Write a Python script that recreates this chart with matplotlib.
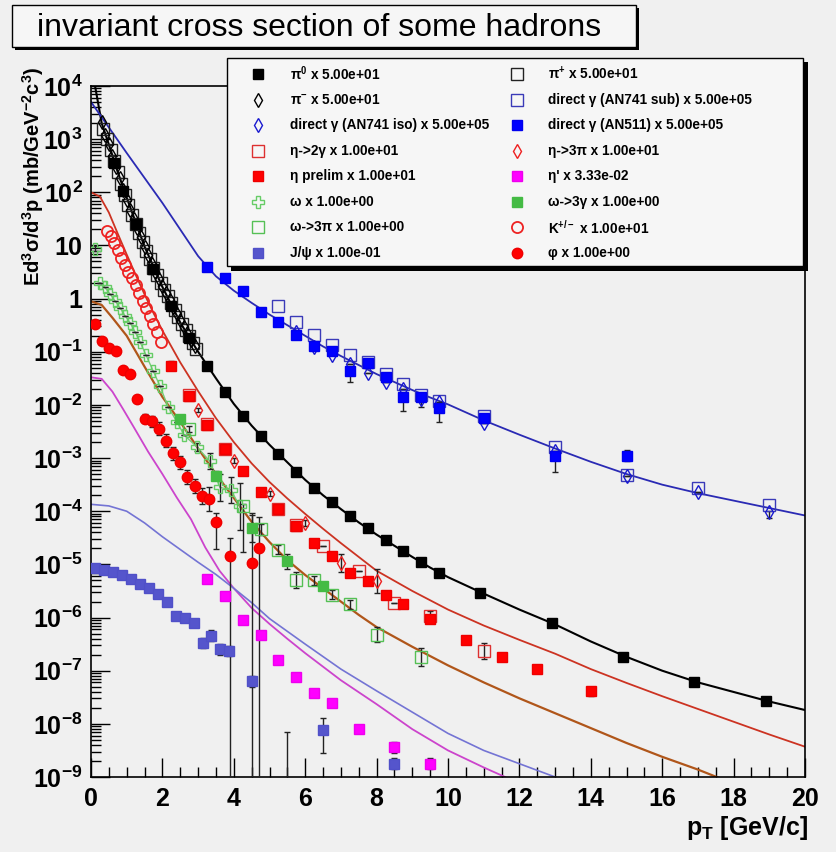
import numpy as np
import matplotlib
matplotlib.use('Agg')
import matplotlib.pyplot as plt
from matplotlib.lines import Line2D
from matplotlib.patches import Rectangle
from matplotlib.ticker import MultipleLocator, LogLocator, NullFormatter
from matplotlib import font_manager as fm


def has_font(name):
    try:
        fm.findfont(fm.FontProperties(family=name), fallback_to_default=False)
        return True
    except Exception:
        return False


SANS = 'Liberation Sans'
NARROW = 'Liberation Sans Narrow' if has_font('Liberation Sans Narrow') else SANS

plt.rcParams.update({
    'font.family': [SANS, 'DejaVu Sans'],
    'mathtext.fontset': 'custom',
    'mathtext.rm': NARROW,
    'mathtext.bf': NARROW + ':bold',
    'mathtext.it': NARROW + ':italic',
    'mathtext.default': 'bf',
})

# ---------------- data (values stored as log10 of cross section) ----------------
pi0_pt = [0.65, 0.9, 1.25, 1.75, 2.25, 2.75, 3.25, 3.75, 4.25, 4.75, 5.25, 5.75, 6.25, 6.75,
          7.25, 7.75, 8.25, 8.75, 9.25, 9.75, 10.9, 12.9, 14.9, 16.9, 18.9]
pi0_lg = [2.55, 2.02, 1.40, 0.55, -0.13, -0.75, -1.26, -1.75, -2.21, -2.58, -2.92, -3.26, -3.57,
          -3.83, -4.09, -4.32, -4.55, -4.75, -4.96, -5.17, -5.53, -6.11, -6.74, -7.21, -7.57]

pip_pt = [0.35, 0.45, 0.55, 0.65, 0.75, 0.85, 0.95, 1.05, 1.15, 1.25, 1.35, 1.45, 1.55, 1.65,
          1.75, 1.85, 1.95, 2.05, 2.15, 2.25, 2.35, 2.45, 2.55, 2.65, 2.75, 2.85, 2.95]
pip_lg = [3.20, 3.00, 2.80, 2.58, 2.38, 2.15, 1.95, 1.77, 1.58, 1.41, 1.24, 1.07, 0.90, 0.74,
          0.58, 0.44, 0.30, 0.17, 0.04, -0.09, -0.22, -0.35, -0.47, -0.59, -0.71, -0.83, -0.95]

pim_pt = [0.3, 0.4, 0.5, 0.6, 0.7, 0.8, 0.9, 1.0, 1.1, 1.2, 1.3, 1.4, 1.5, 1.6,
          1.7, 1.8, 1.9, 2.0, 2.1, 2.2, 2.3, 2.4, 2.5, 2.6, 2.7, 2.8, 2.9]
pim_lg = [3.32, 3.08, 2.90, 2.68, 2.47, 2.26, 2.05, 1.86, 1.67, 1.49, 1.32, 1.15, 0.98, 0.82,
          0.66, 0.51, 0.37, 0.23, 0.10, -0.03, -0.16, -0.29, -0.41, -0.53, -0.65, -0.77, -0.89]

gsub_pt = [5.25, 5.75, 6.25, 6.75, 7.25, 7.75, 8.25, 8.75, 9.25, 9.75, 11.0, 13.0, 15.0, 17.0, 19.0]
gsub_lg = [-0.13, -0.44, -0.69, -0.88, -1.06, -1.20, -1.42, -1.60, -1.81, -1.92, -2.20, -2.79,
           -3.32, -3.57, -3.88]

giso_pt = [5.75, 6.25, 6.75, 7.25, 7.75, 8.25, 8.75, 9.25, 9.75, 11.0, 13.0, 15.0, 17.0, 19.0]
giso_lg = [-0.62, -0.91, -1.07, -1.23, -1.40, -1.57, -1.70, -1.89, -1.95, -2.34, -2.86, -3.33,
           -3.64, -4.02]
giso_elo = [0, 0, 0, 0, 0, 0, 0, 0, 0, 0, 0, 0, 0, 0.10]
giso_ehi = [0, 0, 0, 0, 0, 0, 0, 0, 0, 0, 0, 0, 0, 0.03]

g511_pt = [3.25, 3.75, 4.25, 4.75, 5.25, 5.75, 6.25, 6.75, 7.25, 7.75, 8.25, 8.75, 9.25, 9.75,
           11.0, 13.0, 15.0]
g511_lg = [0.60, 0.38, 0.14, -0.26, -0.44, -0.68, -0.90, -0.98, -1.37, -1.21, -1.47, -1.86,
           -1.86, -2.06, -2.25, -2.97, -2.96]
g511_elo = [0, 0, 0, 0, 0, 0, 0, 0, 0.20, 0, 0, 0.26, 0.17, 0.27, 0.05, 0.30, 0.10]
g511_ehi = [0, 0, 0, 0, 0, 0, 0, 0, 0.08, 0, 0, 0.05, 0.05, 0.05, 0.05, 0.05, 0.12]

eta2g_pt = [2.75, 3.25, 3.75, 5.25, 5.75, 6.5, 7.5, 8.5, 9.5, 11.0]
eta2g_lg = [-1.82, -2.36, -2.82, -3.95, -4.25, -4.65, -5.13, -5.72, -5.97, -6.63]
eta2g_err = [0, 0, 0, 0, 0, 0, 0, 0, 0.10, 0.15]

eta3pi_pt = [3.0, 4.0, 5.0, 6.0, 7.0, 8.0]
eta3pi_lg = [-2.10, -3.05, -3.67, -4.22, -4.97, -5.31]
eta3pi_err = [0.04, 0.05, 0.05, 0.06, 0.17, 0.22]

etap_pt = [2.25, 2.75, 3.25, 3.75, 4.25, 4.75, 5.25, 5.75, 6.25, 6.75, 7.25, 7.75, 8.25, 8.75,
           9.5, 10.5, 11.5, 12.5, 14.0]
etap_lg = [-1.26, -1.84, -2.38, -2.83, -3.24, -3.64, -3.96, -4.28, -4.59, -4.84, -5.16, -5.31,
           -5.57, -5.75, -6.03, -6.43, -6.74, -6.97, -7.39]
etap_err = [0.09, 0.04, 0.04, 0.04, 0.04, 0.04, 0.04, 0.04, 0.04, 0.04, 0.04, 0.05, 0.05, 0.05,
            0.06, 0.06, 0.08, 0.08, 0.09]

etaprime_pt = [3.25, 3.75, 4.25, 4.75, 5.25, 5.75, 6.25, 6.75, 7.5, 8.5, 9.5]
etaprime_lg = [-5.27, -5.60, -6.05, -6.32, -6.79, -7.11, -7.42, -7.60, -8.10, -8.44, -8.75]
etaprime_err = [0.04, 0.04, 0.04, 0.04, 0.05, 0.05, 0.06, 0.07, 0.07, 0.10, 0.10]

omega_pt = [0.11, 0.25, 0.39, 0.53, 0.67, 0.81, 0.95, 1.09, 1.23, 1.37, 1.54, 1.74, 1.93, 2.16,
            2.41, 2.61, 2.97, 3.33, 3.61, 3.92, 4.17]
omega_lg = [0.94, 0.30, 0.21, 0.09, -0.04, -0.17, -0.32, -0.45, -0.62, -0.81, -1.06, -1.36, -1.64,
            -2.04, -2.32, -2.57, -2.79, -3.06, -3.55, -3.60, -3.91]
omega_err = [0.05, 0, 0, 0, 0, 0, 0, 0, 0, 0, 0, 0, 0, 0, 0, 0, 0.08, 0.15, 0.25, 0.25, 0.45]

w3g_pt = [2.5, 3.5, 4.5, 5.5, 6.5]
w3g_lg = [-2.26, -3.33, -4.31, -4.94, -5.40]
w3g_err = [0.05, 0.08, 0.27, 0.14, 0.06]

w3pi_pt = [2.75, 4.25, 4.75, 5.25, 5.75, 6.25, 6.75, 7.25, 8.0, 9.25]
w3pi_lg = [-2.45, -3.91, -4.34, -4.72, -5.30, -5.30, -5.57, -5.75, -6.32, -6.75]
w3pi_elo = [0.05, 0.85, 0.10, 0.08, 0.15, 0.08, 0.08, 0.08, 0.14, 0.17]
w3pi_ehi = [0.05, 0.05, 0.10, 0.08, 0.15, 0.08, 0.08, 0.08, 0.14, 0.17]

kaon_pt = [0.45, 0.55, 0.65, 0.75, 0.85, 0.95, 1.05, 1.15, 1.25, 1.35, 1.45, 1.55, 1.65, 1.75,
           1.85, 1.95]
kaon_lg = [1.28, 1.17, 1.04, 0.91, 0.77, 0.64, 0.51, 0.38, 0.25, 0.11, -0.04, -0.17, -0.32,
           -0.47, -0.62, -0.81]

jpsi_pt = [0.125, 0.375, 0.625, 0.875, 1.125, 1.375, 1.625, 1.875, 2.125, 2.375, 2.625, 2.875,
           3.125, 3.375, 3.625, 3.875, 4.5, 5.5, 6.5, 8.5]
jpsi_lg = [-5.06, -5.10, -5.15, -5.20, -5.27, -5.36, -5.45, -5.55, -5.70, -5.97, -6.00, -6.11,
           -6.48, -6.34, -6.60, -6.63, -7.20, -9.50, -8.11, -8.75]
jpsi_elo = [0, 0, 0, 0, 0, 0, 0, 0, 0, 0.04, 0.04, 0.05, 0.10, 0.10, 0.10, 0.10, 0.10, 0.5, 0.44, 0.10]
jpsi_ehi = [0, 0, 0, 0, 0, 0, 0, 0, 0, 0.04, 0.04, 0.05, 0.10, 0.10, 0.10, 0.10, 0.10, 1.35, 0.22, 0.10]

phi_pt = [0.1, 0.3, 0.5, 0.7, 0.9, 1.1, 1.3, 1.5, 1.7, 1.9, 2.1, 2.3, 2.5, 2.7, 2.9, 3.1, 3.3,
          3.5, 3.9, 4.5, 4.7]
phi_lg = [-0.47, -0.80, -0.93, -0.98, -1.34, -1.42, -1.89, -2.26, -2.31, -2.45, -2.67, -2.91,
          -3.08, -3.36, -3.53, -3.71, -3.77, -4.21, -4.84, -4.97, -4.70]
phi_elo = [0, 0, 0, 0, 0, 0, 0.05, 0.08, 0.10, 0.12, 0.12, 0.12, 0.12, 0.13, 0.13, 0.15, 0.22,
           0.50, 20, 20, 20]
phi_ehi = [0, 0, 0, 0, 0, 0, 0.05, 0.08, 0.10, 0.12, 0.12, 0.12, 0.12, 0.13, 0.13, 0.15, 0.22,
           0.18, 0.34, 0.90, 0.60]

# fitted curves (log10 values at listed pT)
pi0fit_pt = [0.1, 0.3, 0.5, 0.75, 1.0, 1.5, 2.0, 2.5, 3.0, 3.5, 4.0, 4.5, 5.0, 5.5, 6.0, 6.5,
             7.0, 7.5, 8.0, 8.5, 9.0, 9.5, 10, 11, 12, 13, 14, 15, 16, 17, 18, 19, 20]
pi0fit_lg = [4.05, 3.30, 2.90, 2.38, 1.90, 0.98, 0.22, -0.45, -1.00, -1.50, -1.98, -2.39, -2.75,
             -3.08, -3.41, -3.70, -3.96, -4.21, -4.44, -4.65, -4.86, -5.06, -5.24, -5.55, -5.85,
             -6.13, -6.45, -6.74, -7.00, -7.22, -7.40, -7.58, -7.74]

gfit_pt = [0, 0.5, 1.0, 1.5, 2.0, 2.5, 3.0, 3.5, 4.0, 4.5, 5.0, 5.5, 6.0, 6.5, 7.0, 7.5, 8.0,
           8.5, 9.0, 9.5, 10, 11, 12, 13, 14, 15, 16, 17, 18, 19, 20]
gfit_lg = [3.70, 3.22, 2.74, 2.27, 1.80, 1.30, 0.80, 0.42, 0.15, -0.08, -0.30, -0.50, -0.70,
           -0.90, -1.08, -1.25, -1.42, -1.57, -1.72, -1.86, -1.99, -2.29, -2.56, -2.82, -3.07,
           -3.30, -3.50, -3.66, -3.80, -3.94, -4.08]

kfit_pt = [0, 0.25, 0.5, 0.75, 1.0, 1.25, 1.5, 1.75, 2.0, 2.5, 3.0, 3.5, 4.0, 4.5, 5.0, 5.5,
           6.0, 6.5, 7.0, 7.5, 8.0, 9, 10, 11, 12, 13, 14, 15, 16, 17, 18, 19, 20]
kfit_lg = [2.00, 1.92, 1.62, 1.22, 0.83, 0.45, 0.08, -0.27, -0.60, -1.20, -1.74, -2.25, -2.70,
           -3.10, -3.45, -3.76, -4.05, -4.33, -4.60, -4.86, -5.12, -5.50, -5.85, -6.15, -6.42,
           -6.68, -6.97, -7.23, -7.48, -7.72, -7.96, -8.20, -8.43]

wfit_pt = [0, 0.3, 0.6, 1.0, 1.5, 2.0, 2.5, 3.0, 3.5, 4.0, 4.5, 5.0, 5.5, 6.0, 6.5, 7.0, 7.5,
           8.0, 9, 10, 11, 12, 13, 14, 15, 16, 17, 17.6]
wfit_lg = [-0.05, -0.12, -0.36, -0.70, -1.28, -1.85, -2.32, -2.82, -3.30, -3.75, -4.20, -4.58,
           -4.92, -5.20, -5.45, -5.70, -5.95, -6.18, -6.55, -6.90, -7.22, -7.52, -7.80, -8.08,
           -8.36, -8.62, -8.86, -9.02]

etaprimefit_pt = [0, 0.3, 0.6, 0.9, 1.2, 1.6, 2.0, 2.4, 2.8, 3.2, 3.6, 4.0, 4.5, 5.0, 5.5, 6.0,
                  7, 8, 9, 10, 11, 11.6]
etaprimefit_lg = [-1.48, -1.51, -1.75, -2.08, -2.42, -2.88, -3.30, -3.74, -4.15, -4.68, -5.12,
                  -5.45, -5.82, -6.12, -6.40, -6.67, -7.18, -7.63, -8.10, -8.50, -8.82, -9.00]

jpsifit_pt = [0, 0.5, 1.0, 1.5, 2.0, 2.5, 3.0, 3.5, 4.0, 4.5, 5, 6, 7, 8, 9, 10, 11, 12, 13]
jpsifit_lg = [-3.87, -3.90, -4.00, -4.22, -4.48, -4.72, -4.96, -5.19, -5.45, -5.72, -6.02,
              -6.50, -6.97, -7.38, -7.78, -8.18, -8.50, -8.75, -9.00]

xtick_vals = [0, 2, 4, 6, 8, 10, 12, 14, 16, 18, 20]
xtick_labels = ['0', '2', '4', '6', '8', '10', '12', '14', '16', '18', '20']
ytick_exps = [-9, -8, -7, -6, -5, -4, -3, -2, -1, 0, 1, 2, 3, 4]
ytick_labels = [r'$10^{-9}$', r'$10^{-8}$', r'$10^{-7}$', r'$10^{-6}$', r'$10^{-5}$',
                r'$10^{-4}$', r'$10^{-3}$', r'$10^{-2}$', r'$10^{-1}$', '1', '10',
                r'$10^{2}$', r'$10^{3}$', r'$10^{4}$']

title_text = 'invariant cross section of some hadrons'

# ---------------- styles ----------------
BLUE_CURVE = '#2a2ab4'
styles = {
    'pi0': dict(marker='s', ms=7.5, mfc='black', mec='black'),
    'pip': dict(marker='s', ms=8, mfc='none', mec='#222222', mew=1.0),
    'pim': dict(marker='d', ms=7, mfc='none', mec='black', mew=1.0),
    'gsub': dict(marker='s', ms=8, mfc='none', mec='#3a3ab8', mew=1.0),
    'giso': dict(marker='d', ms=7, mfc='none', mec='#1a1ad0', mew=1.0),
    'g511': dict(marker='s', ms=7.5, mfc='#0000ff', mec='#0000ee'),
    'eta2g': dict(marker='s', ms=8, mfc='none', mec='#dd3030', mew=1.0),
    'eta3pi': dict(marker='d', ms=7, mfc='none', mec='#ee2020', mew=1.0),
    'etap': dict(marker='s', ms=7.5, mfc='#ff0000', mec='#ee0000'),
    'etaprime': dict(marker='s', ms=7.5, mfc='#ff00ff', mec='#ee00ee'),
    'omega': dict(marker='P', ms=8.5, mfc='none', mec='#66cc66', mew=1.0),
    'w3g': dict(marker='s', ms=7.5, mfc='#44bb44', mec='#44bb44'),
    'w3pi': dict(marker='s', ms=8, mfc='none', mec='#55c055', mew=1.0),
    'kaon': dict(marker='o', ms=8, mfc='none', mec='#ee2222', mew=1.3),
    'jpsi': dict(marker='s', ms=7.5, mfc='#5555cc', mec='#5050c8'),
    'phi': dict(marker='o', ms=7.5, mfc='#ff0000', mec='#ee0000'),
}

W, H = 836, 852
fig = plt.figure(figsize=(W / 100, H / 100), dpi=100, facecolor='#f0f0f0')


def fx(px):
    return px / W


def fy(py):
    return 1 - py / H


ax = fig.add_axes([fx(91), fy(777), fx(805) - fx(91), fy(86) - fy(777)])
ax.set_facecolor('#f0f0f0')
ax.set_yscale('log')
ax.set_xlim(0, 20)
ax.set_ylim(1e-9, 1e4)


def val(lg):
    return 10.0 ** np.asarray(lg, dtype=float)


# curves
ax.plot(pi0fit_pt, val(pi0fit_lg), color='black', lw=1.5, zorder=2)
ax.plot(gfit_pt, val(gfit_lg), color=BLUE_CURVE, lw=1.3, zorder=2)
ax.plot(kfit_pt, val(kfit_lg), color='#cc3322', lw=1.3, zorder=2)
ax.plot(wfit_pt, val(wfit_lg), color='#b0561a', lw=1.6, zorder=2)
ax.plot(etaprimefit_pt, val(etaprimefit_lg), color='#cc44cc', lw=1.3, zorder=2)
ax.plot(jpsifit_pt, val(jpsifit_lg), color='#7474d4', lw=1.2, zorder=2)
ax.plot(omega_pt[1:], val(omega_lg[1:]), color='#77cc77', lw=1.0, zorder=2)


def draw(pt, lg, key, elo=None, ehi=None):
    v = val(lg)
    if elo is not None:
        lo = np.asarray(elo, dtype=float)
        hi = np.asarray(ehi if ehi is not None else elo, dtype=float)
        yerr = [v - v * 10.0 ** (-lo), v * 10.0 ** hi - v]
        ax.errorbar(pt, v, yerr=yerr, fmt='none', ecolor='#222222', elinewidth=1.0,
                    capsize=2, capthick=1.0, zorder=3)
    ax.plot(pt, v, ls='none', zorder=4, **styles[key])


draw(pip_pt, pip_lg, 'pip')
draw(pim_pt, pim_lg, 'pim')
draw(pi0_pt, pi0_lg, 'pi0')
draw(gsub_pt, gsub_lg, 'gsub')
draw(giso_pt, giso_lg, 'giso', giso_elo, giso_ehi)
draw(g511_pt, g511_lg, 'g511', g511_elo, g511_ehi)
draw(kaon_pt, kaon_lg, 'kaon')
draw(omega_pt, omega_lg, 'omega', omega_err)
draw(w3pi_pt, w3pi_lg, 'w3pi', w3pi_elo, w3pi_ehi)
draw(w3g_pt, w3g_lg, 'w3g', w3g_err)
draw(eta2g_pt, eta2g_lg, 'eta2g', eta2g_err)
draw(etap_pt, etap_lg, 'etap', etap_err)
draw(eta3pi_pt, eta3pi_lg, 'eta3pi', eta3pi_err)
draw(phi_pt, phi_lg, 'phi', phi_elo, phi_ehi)
draw(etaprime_pt, etaprime_lg, 'etaprime', etaprime_err)
draw(jpsi_pt, jpsi_lg, 'jpsi', jpsi_elo, jpsi_ehi)

# axes styling (ROOT-like inward ticks)
for sp in ax.spines.values():
    sp.set_linewidth(1.2)
    sp.set_color('black')
ax.set_xticks(xtick_vals)
ax.set_xticklabels(xtick_labels)
ax.xaxis.set_minor_locator(MultipleLocator(0.5))
ax.set_yticks([10.0 ** e for e in ytick_exps])
ax.set_yticklabels(ytick_labels)
ax.yaxis.set_minor_locator(LogLocator(base=10, subs=np.arange(2, 10), numticks=200))
ax.yaxis.set_minor_formatter(NullFormatter())
ax.tick_params(which='major', direction='in', length=14, width=1.0, top=False, right=False)
ax.tick_params(which='minor', direction='in', length=7, width=1.0, top=False, right=False)
ax.tick_params(axis='x', pad=7)
ax.tick_params(axis='y', pad=6)
for lab in ax.get_xticklabels():
    lab.set_fontfamily(NARROW)
    lab.set_fontweight('bold')
    lab.set_fontsize(18)
for lab in ax.get_yticklabels():
    lab.set_fontfamily(NARROW)
    lab.set_fontweight('bold')
    lab.set_fontsize(18)

# axis titles
fig.text(fx(33), fy(176), r'Ed$^{3}$σ/d$^{3}$p (mb/GeV$^{-2}$c$^{3}$)', rotation=90,
         ha='center', va='center', fontsize=14.5, fontweight='bold', family=[SANS, 'DejaVu Sans'])
fig.text(fx(808), fy(828), r'p$_{T}$ [GeV/c]', ha='right', va='center', fontsize=18,
         fontweight='bold', family=[NARROW, 'DejaVu Sans'])


def prect(x0, y0, x1, y1, **kw):
    return Rectangle((fx(x0), fy(y1)), fx(x1) - fx(x0), fy(y0) - fy(y1),
                     transform=fig.transFigure, **kw)


# title box
fig.add_artist(prect(15, 8, 639, 50, fc='black', ec='none', zorder=5))
fig.add_artist(prect(12, 5, 636, 47, fc='#f6f6f6', ec='black', lw=1.0, zorder=6))
fig.text(fx(37), fy(28), title_text, ha='left', va='center', fontsize=23,
         family=[SANS, 'DejaVu Sans'], zorder=7)

# legend box
fig.add_artist(prect(231, 62, 808, 271, fc='black', ec='none', zorder=5))
fig.add_artist(prect(227, 58, 803, 266, fc='#f6f6f6', ec='black', lw=1.0, zorder=6))

legend_left = [('pi0', r'π$^{0}$ x 5.00e+01'),
               ('pim', r'π$^{-}$ x 5.00e+01'),
               ('giso', 'direct γ (AN741 iso) x 5.00e+05'),
               ('eta2g', 'η->2γ x 1.00e+01'),
               ('etap', 'η prelim x 1.00e+01'),
               ('omega', 'ω x 1.00e+00'),
               ('w3pi', 'ω->3π x 1.00e+00'),
               ('jpsi', 'J/ψ x 1.00e-01')]
legend_right = [('pip', r'π$^{+}$ x 5.00e+01'),
                ('gsub', 'direct γ (AN741 sub) x 5.00e+05'),
                ('g511', 'direct γ (AN511) x 5.00e+05'),
                ('eta3pi', 'η->3π x 1.00e+01'),
                ('etaprime', "η' x 3.33e-02"),
                ('w3g', 'ω->3γ x 1.00e+00'),
                ('kaon', r'K$^{+/-}$ x 1.00e+01'),
                ('phi', 'φ x 1.00e+00')]
row_y = [74, 99.6, 125.1, 150.7, 176.3, 201.9, 227.4, 253]
for col, (mx, tx) in zip([legend_left, legend_right], [(258, 290), (517, 548)]):
    for (key, text), ry in zip(col, row_y):
        fig.add_artist(Line2D([fx(mx)], [fy(ry)], transform=fig.transFigure, ls='none',
                              zorder=7, **styles[key]))
        fig.text(fx(tx), fy(ry), text, ha='left', va='center', fontsize=9.8,
                 fontweight='bold', family=[SANS, 'DejaVu Sans'], zorder=7)

fig.savefig('out.png', dpi=100, facecolor=fig.get_facecolor())
